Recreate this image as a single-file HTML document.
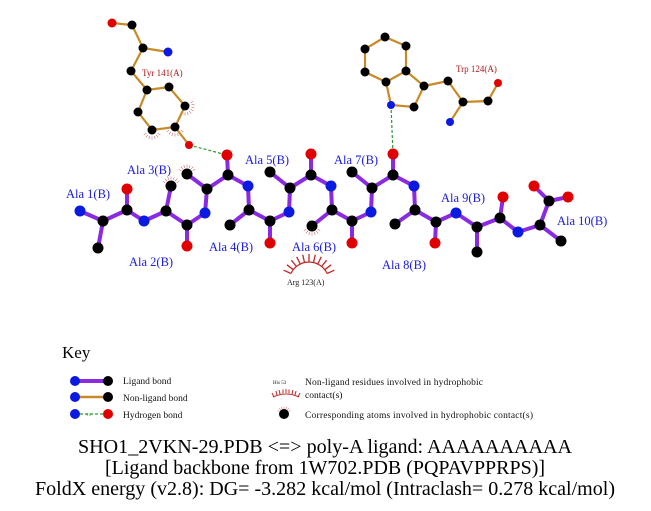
<!DOCTYPE html>
<html><head><meta charset="utf-8"><style>
html,body{margin:0;padding:0;background:#fff;}
svg{display:block;}
</style></head><body>
<svg width="651" height="511" viewBox="0 0 651 511" xmlns="http://www.w3.org/2000/svg">
<defs>
<g id="hm" stroke="#d06060" stroke-width="0.6">
<line x1="0" y1="-6.5" x2="0" y2="-9.5"/>
<line x1="0" y1="-6.5" x2="0" y2="-9.5" transform="rotate(-20)"/>
<line x1="0" y1="-6.5" x2="0" y2="-9.5" transform="rotate(20)"/>
<line x1="0" y1="-6.5" x2="0" y2="-9.5" transform="rotate(-40)"/>
<line x1="0" y1="-6.5" x2="0" y2="-9.5" transform="rotate(40)"/>
<line x1="0" y1="-6.5" x2="0" y2="-9.5" transform="rotate(-60)"/>
<line x1="0" y1="-6.5" x2="0" y2="-9.5" transform="rotate(60)"/>
</g>
</defs>

<use href="#hm" transform="translate(171,186)"/>
<use href="#hm" transform="translate(187,174)"/>
<use href="#hm" transform="translate(185,106) rotate(120)"/>
<use href="#hm" transform="translate(175,127) rotate(180)"/>
<use href="#hm" transform="translate(152,130) rotate(180)"/>
<use href="#hm" transform="translate(312,226) rotate(180)"/>

<g stroke="#2a9a2a" stroke-width="1.2" stroke-dasharray="3,2" fill="none">
<line x1="189" y1="145" x2="227" y2="155"/>
<line x1="391" y1="105" x2="393" y2="154"/>
</g>

<g stroke="#c88a28" stroke-width="2.2" fill="none" stroke-linecap="round">
<polyline points="112,23 132,25 143,48 168,52"/>
<polyline points="143,48 131,71 147,90"/>
<polygon points="147,90 169,87 185,106 175,127 152,130 138,112"/>
<line x1="175" y1="127" x2="189" y2="145"/>
<polygon points="385,37 406,46 406,71 386,82 365,72 365,49"/>
<polyline points="386,82 391,105 414,107 424,86 406,71"/>
<polyline points="424,86 448,81 463,102 450,122"/>
<polyline points="463,102 488,101 498,83"/>
</g>

<g stroke="#8a2be2" stroke-width="4" fill="none" stroke-linecap="round" stroke-linejoin="round">
<polyline points="80,211 103,221 127,210 144,221 166,211 187,225 205,213 207,189 228,175 248,186 249,210 270,221 289,212 290,188 311,175 331,186 332,210 352,221 371,212 372,188 393,175 414,186 415,210 436,222 456,213 477,227 500,218 518,232 540,225 549,201 534,186"/>
<line x1="103" y1="221" x2="98" y2="248"/>
<line x1="127" y1="210" x2="127" y2="189"/>
<line x1="166" y1="211" x2="171" y2="186"/>
<line x1="187" y1="225" x2="187" y2="246"/>
<line x1="207" y1="189" x2="187" y2="174"/>
<line x1="228" y1="175" x2="227" y2="155"/>
<line x1="249" y1="210" x2="230" y2="225"/>
<line x1="270" y1="221" x2="270" y2="243"/>
<line x1="290" y1="188" x2="270" y2="172"/>
<line x1="311" y1="175" x2="311" y2="154"/>
<line x1="332" y1="210" x2="312" y2="226"/>
<line x1="352" y1="221" x2="352" y2="243"/>
<line x1="372" y1="188" x2="352" y2="172"/>
<line x1="393" y1="175" x2="393" y2="154"/>
<line x1="415" y1="210" x2="395" y2="224"/>
<line x1="436" y1="222" x2="435" y2="243"/>
<line x1="477" y1="227" x2="477" y2="252"/>
<line x1="500" y1="218" x2="503" y2="197"/>
<line x1="540" y1="225" x2="561" y2="241"/>
<line x1="549" y1="201" x2="568" y2="197"/>
</g>

<g>
<circle cx="112" cy="23" r="4.5" fill="#e00000"/>
<circle cx="132" cy="25" r="4.5" fill="#000"/>
<circle cx="143" cy="48" r="4.5" fill="#000"/>
<circle cx="168" cy="52" r="4.5" fill="#0a1ae0"/>
<circle cx="131" cy="71" r="4.5" fill="#000"/>
<circle cx="147" cy="90" r="4.5" fill="#000"/>
<circle cx="169" cy="87" r="4.5" fill="#000"/>
<circle cx="185" cy="106" r="4.5" fill="#000"/>
<circle cx="175" cy="127" r="4.5" fill="#000"/>
<circle cx="152" cy="130" r="4.5" fill="#000"/>
<circle cx="138" cy="112" r="4.5" fill="#000"/>
<circle cx="189" cy="145" r="4" fill="#e00000"/>
<circle cx="385" cy="37" r="4.5" fill="#000"/>
<circle cx="406" cy="46" r="4.5" fill="#000"/>
<circle cx="406" cy="71" r="4.5" fill="#000"/>
<circle cx="386" cy="82" r="4.5" fill="#000"/>
<circle cx="365" cy="72" r="4.5" fill="#000"/>
<circle cx="365" cy="49" r="4.5" fill="#000"/>
<circle cx="391" cy="105" r="4" fill="#0a1ae0"/>
<circle cx="414" cy="107" r="4.5" fill="#000"/>
<circle cx="424" cy="86" r="4.5" fill="#000"/>
<circle cx="448" cy="81" r="4.5" fill="#000"/>
<circle cx="463" cy="102" r="4.5" fill="#000"/>
<circle cx="450" cy="122" r="4" fill="#0a1ae0"/>
<circle cx="488" cy="101" r="4.5" fill="#000"/>
<circle cx="498" cy="83" r="4" fill="#e00000"/>
</g>

<g>
<circle cx="80" cy="211" r="5.5" fill="#0a1ae0"/>
<circle cx="103" cy="221" r="5.5" fill="#000"/>
<circle cx="98" cy="248" r="5.5" fill="#000"/>
<circle cx="127" cy="210" r="5.5" fill="#000"/>
<circle cx="127" cy="189" r="5.5" fill="#e00000"/>
<circle cx="144" cy="221" r="5.5" fill="#0a1ae0"/>
<circle cx="166" cy="211" r="5.5" fill="#000"/>
<circle cx="171" cy="186" r="5.5" fill="#000"/>
<circle cx="187" cy="225" r="5.5" fill="#000"/>
<circle cx="187" cy="246" r="5.5" fill="#e00000"/>
<circle cx="205" cy="213" r="5.5" fill="#0a1ae0"/>
<circle cx="207" cy="189" r="5.5" fill="#000"/>
<circle cx="187" cy="174" r="5.5" fill="#000"/>
<circle cx="228" cy="175" r="5.5" fill="#000"/>
<circle cx="227" cy="155" r="5.5" fill="#e00000"/>
<circle cx="248" cy="186" r="5.5" fill="#0a1ae0"/>
<circle cx="249" cy="210" r="5.5" fill="#000"/>
<circle cx="230" cy="225" r="5.5" fill="#000"/>
<circle cx="270" cy="221" r="5.5" fill="#000"/>
<circle cx="270" cy="243" r="5.5" fill="#e00000"/>
<circle cx="289" cy="212" r="5.5" fill="#0a1ae0"/>
<circle cx="290" cy="188" r="5.5" fill="#000"/>
<circle cx="270" cy="172" r="5.5" fill="#000"/>
<circle cx="311" cy="175" r="5.5" fill="#000"/>
<circle cx="311" cy="154" r="5.5" fill="#e00000"/>
<circle cx="331" cy="186" r="5.5" fill="#0a1ae0"/>
<circle cx="332" cy="210" r="5.5" fill="#000"/>
<circle cx="312" cy="226" r="5.5" fill="#000"/>
<circle cx="352" cy="221" r="5.5" fill="#000"/>
<circle cx="352" cy="243" r="5.5" fill="#e00000"/>
<circle cx="371" cy="212" r="5.5" fill="#0a1ae0"/>
<circle cx="372" cy="188" r="5.5" fill="#000"/>
<circle cx="352" cy="172" r="5.5" fill="#000"/>
<circle cx="393" cy="175" r="5.5" fill="#000"/>
<circle cx="393" cy="154" r="5.5" fill="#e00000"/>
<circle cx="414" cy="186" r="5.5" fill="#0a1ae0"/>
<circle cx="415" cy="210" r="5.5" fill="#000"/>
<circle cx="395" cy="224" r="5.5" fill="#000"/>
<circle cx="436" cy="222" r="5.5" fill="#000"/>
<circle cx="435" cy="243" r="5.5" fill="#e00000"/>
<circle cx="456" cy="213" r="5.5" fill="#0a1ae0"/>
<circle cx="477" cy="227" r="5.5" fill="#000"/>
<circle cx="477" cy="252" r="5.5" fill="#000"/>
<circle cx="500" cy="218" r="5.5" fill="#000"/>
<circle cx="503" cy="197" r="5.5" fill="#e00000"/>
<circle cx="518" cy="232" r="5.5" fill="#0a1ae0"/>
<circle cx="540" cy="225" r="5.5" fill="#000"/>
<circle cx="561" cy="241" r="5.5" fill="#000"/>
<circle cx="549" cy="201" r="5.5" fill="#000"/>
<circle cx="534" cy="186" r="5.5" fill="#e00000"/>
<circle cx="568" cy="197" r="5.5" fill="#e00000"/>
</g>

<g stroke="#c02828" stroke-width="1.3" fill="none">
<path d="M290.9,273.5 A20,20 0 0 1 327.1,273.5"/>
<line x1="290.9" y1="273.5" x2="283.6" y2="270.2"/>
<line x1="293.2" y1="269.7" x2="286.9" y2="264.8"/>
<line x1="296.4" y1="266.5" x2="291.4" y2="260.2"/>
<line x1="300.2" y1="264.0" x2="296.7" y2="256.8"/>
<line x1="304.5" y1="262.5" x2="302.7" y2="254.7"/>
<line x1="309" y1="262" x2="309" y2="254"/>
<line x1="313.5" y1="262.5" x2="315.3" y2="254.7"/>
<line x1="317.8" y1="264.0" x2="321.3" y2="256.8"/>
<line x1="321.6" y1="266.5" x2="326.6" y2="260.2"/>
<line x1="324.8" y1="269.7" x2="331.1" y2="264.8"/>
<line x1="327.1" y1="273.5" x2="334.4" y2="270.2"/>
</g>

<g font-family="'Liberation Serif', serif" font-size="12.5" fill="#1a1ae0">
<text x="66" y="198">Ala 1(B)</text>
<text x="129" y="266">Ala 2(B)</text>
<text x="127" y="174">Ala 3(B)</text>
<text x="209" y="251">Ala 4(B)</text>
<text x="245" y="164">Ala 5(B)</text>
<text x="292" y="251">Ala 6(B)</text>
<text x="334" y="164">Ala 7(B)</text>
<text x="382" y="269">Ala 8(B)</text>
<text x="441" y="202">Ala 9(B)</text>
<text x="557" y="225">Ala 10(B)</text>
</g>
<g font-family="'Liberation Serif', serif" font-size="9" fill="#b01818">
<text x="142" y="76">Tyr 141(A)</text>
<text x="456" y="72">Trp 124(A)</text>
</g>
<text x="287" y="285" font-family="'Liberation Serif', serif" font-size="8" fill="#222">Arg 123(A)</text>

<text x="62" y="358" font-family="'Liberation Serif', serif" font-size="17" fill="#000">Key</text>
<line x1="75" y1="381" x2="108" y2="381" stroke="#8a2be2" stroke-width="4"/>
<circle cx="75" cy="381" r="5" fill="#0a1ae0"/><circle cx="108" cy="381" r="5" fill="#000"/>
<line x1="75" y1="397" x2="108" y2="397" stroke="#c88a28" stroke-width="2.5"/>
<circle cx="75" cy="397" r="5" fill="#0a1ae0"/><circle cx="108" cy="397" r="5" fill="#000"/>
<line x1="75" y1="414" x2="108" y2="414" stroke="#2a9a2a" stroke-width="1.2" stroke-dasharray="3,2"/>
<circle cx="75" cy="414" r="5" fill="#0a1ae0"/><circle cx="108" cy="414" r="5" fill="#e00000"/>
<text x="86" y="416" font-family="'Liberation Serif', serif" font-size="4" fill="#2a9a2a">3.0</text>
<g font-family="'Liberation Serif', serif" font-size="9.5" fill="#111">
<text x="123" y="384">Ligand bond</text>
<text x="123" y="401">Non-ligand bond</text>
<text x="123" y="418">Hydrogen bond</text>
<text x="305" y="385" textLength="178">Non-ligand residues involved in hydrophobic</text>
<text x="305" y="398">contact(s)</text>
<text x="305" y="418" textLength="228">Corresponding atoms involved in hydrophobic contact(s)</text>
</g>
<text x="273" y="384" font-family="'Liberation Serif', serif" font-size="5" fill="#111">His 53</text>
<g stroke="#c02828" stroke-width="1" fill="none">
<path d="M273,397 Q286,391 299,397"/>
<line x1="274" y1="397" x2="272" y2="393"/>
<line x1="277" y1="395" x2="276" y2="391"/>
<line x1="280" y1="394" x2="279" y2="390"/>
<line x1="283" y1="393.5" x2="283" y2="389.5"/>
<line x1="286" y1="393" x2="286" y2="389"/>
<line x1="289" y1="393.5" x2="289" y2="389.5"/>
<line x1="292" y1="394" x2="293" y2="390"/>
<line x1="295" y1="395" x2="296" y2="391"/>
<line x1="298" y1="397" x2="300" y2="393"/>
</g>
<use href="#hm" transform="translate(284,414) scale(0.8)"/>
<circle cx="284" cy="414" r="5" fill="#000"/>

<g font-family="'Liberation Serif', serif" font-size="19.5" fill="#000">
<text x="78" y="453" textLength="494" lengthAdjust="spacingAndGlyphs">SHO1_2VKN-29.PDB &lt;=&gt; poly-A ligand: AAAAAAAAAA</text>
<text x="105" y="474" textLength="440" lengthAdjust="spacingAndGlyphs">[Ligand backbone from 1W702.PDB (PQPAVPPRPS)]</text>
<text x="35" y="495" textLength="580" lengthAdjust="spacingAndGlyphs">FoldX energy (v2.8): DG= -3.282 kcal/mol (Intraclash= 0.278 kcal/mol)</text>
</g>
</svg>
</body></html>
